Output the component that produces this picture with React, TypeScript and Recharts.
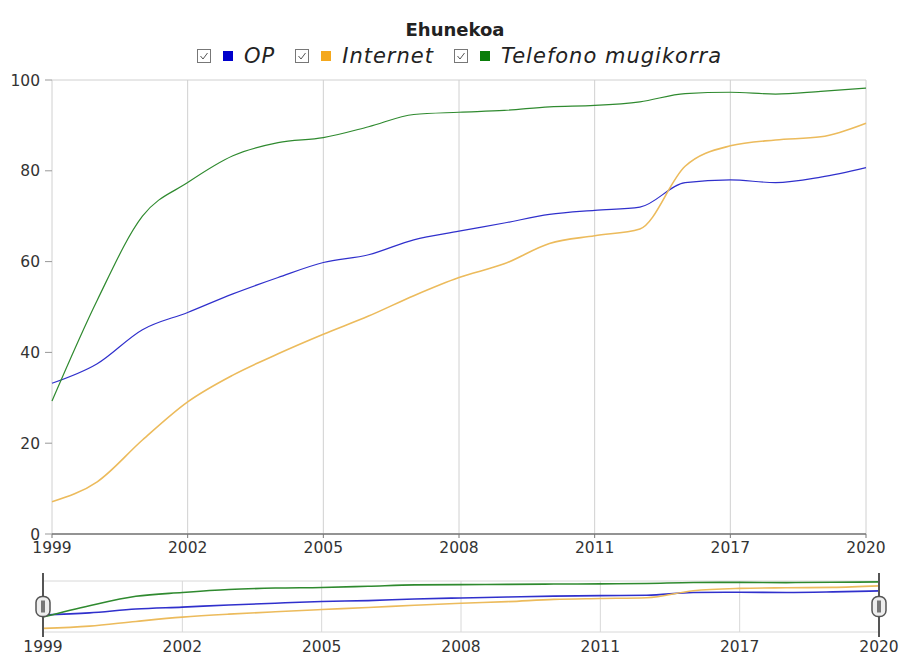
import { LineChart, Line, XAxis, YAxis, CartesianGrid, ReferenceLine } from "recharts";

const years = [
  "1999", "2000", "2001", "2002", "2003", "2004", "2005", "2006", "2007", "2008",
  "2009", "2010", "2011", "2013", "2015", "2017", "2018", "2019", "2020",
];
const opValues = [33.2, 37.5, 45, 48.8, 52.9, 56.5, 59.8, 61.5, 64.8, 66.7, 68.5, 70.4, 71.3, 72, 77.4, 78, 77.4, 78.6, 80.7];
const internetValues = [7.1, 11.5, 20.7, 29.1, 35, 39.7, 44, 48, 52.5, 56.5, 59.5, 64, 65.7, 67.2, 81, 85.5, 86.8, 87.5, 90.5];
const mobileValues = [29.3, 51.5, 70, 77.4, 83.3, 86.2, 87.3, 89.7, 92.4, 92.9, 93.3, 94.1, 94.4, 95.2, 97, 97.3, 96.9, 97.5, 98.2];
const xTicks = ["1999", "2002", "2005", "2008", "2011", "2017", "2020"];
const yTicks = [0, 20, 40, 60, 80, 100];

const series = [
  { key: "op", name: "OP", color: "#0000cc", line: "#3030cc" },
  { key: "internet", name: "Internet", color: "#f4a81d", line: "#ecbb5c" },
  { key: "mobile", name: "Telefono mugikorra", color: "#0a7d0a", line: "#2f8a2f" },
];

const data = years.map((year, i) => ({
  year,
  op: opValues[i],
  internet: internetValues[i],
  mobile: mobileValues[i],
}));

const FONT = "'DejaVu Sans', Verdana, sans-serif";
const tickStyle = { fill: "#333", fontSize: 15.5, fontFamily: FONT };

function Checkbox() {
  return (
    <svg width={14} height={14} style={{ marginRight: 12 }}>
      <rect x={0.5} y={0.5} width={13} height={13} fill="#fff" stroke="#777" />
      <path d="M3.5 7 L6 10 L10.5 4" fill="none" stroke="#555" strokeWidth={1} />
    </svg>
  );
}

// drawn as the reference line's label so it gets the line's position from the scale
function Handle(props: any) {
  const { viewBox } = props;
  const x = viewBox.x;
  const top = viewBox.y;
  const bottom = viewBox.y + viewBox.height;
  const mid = (top + bottom) / 2;
  return (
    <g>
      <line x1={x} x2={x} y1={top - 8} y2={bottom + 5} stroke="#555" strokeWidth={2} />
      <rect x={x - 7} y={mid - 10} width={14} height={20} rx={6} fill="#eee" stroke="#555" strokeWidth={1.5} />
      <rect x={x - 2} y={mid - 6} width={4} height={12} fill="#777" />
    </g>
  );
}

export default function App() {
  return (
    <div style={{ position: "absolute", left: 0, top: 0, width: 910, height: 663, background: "#fff", fontFamily: FONT }}>
      <div style={{ position: "absolute", left: 0, top: 19, width: 910, textAlign: "center", fontWeight: "bold", fontSize: 18, color: "#222" }}>
        Ehunekoa
      </div>
      <div style={{ position: "absolute", left: 197, top: 44, display: "flex", alignItems: "center", fontStyle: "italic", fontSize: 21, letterSpacing: 1, color: "#222" }}>
        {series.map((s) => (
          <span key={s.key} style={{ display: "flex", alignItems: "center", marginRight: 20 }}>
            <Checkbox />
            <span style={{ display: "inline-block", width: 10, height: 10, background: s.color, marginRight: 11 }} />
            {s.name}
          </span>
        ))}
      </div>
      <div style={{ position: "absolute", left: 0, top: 0 }}>
        <LineChart width={910} height={560} data={data} margin={{ top: 80, right: 0, left: 0, bottom: 0 }}>
          <CartesianGrid stroke="#d0d0d0" />
          <XAxis
            dataKey="year"
            ticks={xTicks}
            interval={0}
            height={26}
            tick={tickStyle}
            tickSize={4}
            tickMargin={4}
            stroke="#777"
            axisLine={{ stroke: "#777", strokeWidth: 1.5 }}
          />
          <YAxis yAxisId="left" domain={[0, 100]} ticks={yTicks} width={52} axisLine={false} tick={tickStyle} tickSize={7} tickMargin={5} tickLine={{ stroke: "#999" }} />
          <YAxis yAxisId="right" orientation="right" domain={[0, 100]} ticks={yTicks} width={44} axisLine={false} tick={tickStyle} tickSize={7} tickMargin={3} tickLine={{ stroke: "#999" }} />
          {series.map((s) => (
            <Line
              key={s.key}
              yAxisId="left"
              type="monotone"
              dataKey={s.key}
              name={s.name}
              stroke={s.line}
              strokeWidth={s.key === "internet" ? 1.6 : 1.2}
              dot={false}
              isAnimationActive={false}
            />
          ))}
        </LineChart>
      </div>
      <div style={{ position: "absolute", left: 0, top: 560 }}>
        <LineChart width={910} height={103} data={data} margin={{ top: 21, right: 31, left: 43, bottom: 0 }}>
          <CartesianGrid stroke="#d8d8d8" horizontalValues={[0, 100]} />
          <XAxis dataKey="year" ticks={xTicks} interval={0} height={31} tick={tickStyle} tickLine={false} axisLine={false} tickMargin={3} />
          <YAxis hide domain={[0, 100]} />
          {series.map((s) => (
            <Line
              key={s.key}
              type="monotone"
              dataKey={s.key}
              stroke={s.line}
              strokeWidth={1.6}
              dot={false}
              isAnimationActive={false}
            />
          ))}
          <ReferenceLine x="1999" stroke="none" label={Handle} />
          <ReferenceLine x="2020" stroke="none" label={Handle} />
        </LineChart>
      </div>
    </div>
  );
}
